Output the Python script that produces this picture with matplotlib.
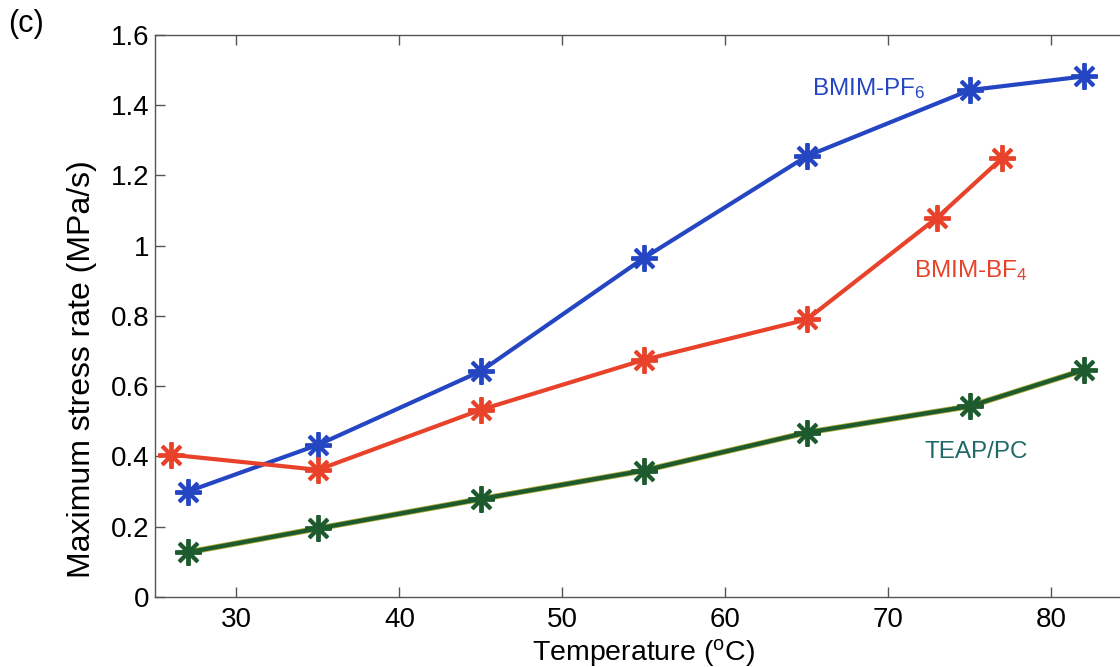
import matplotlib
matplotlib.use("Agg")
import matplotlib.pyplot as plt

plt.rcParams['font.family'] = ['Liberation Sans', 'DejaVu Sans']
plt.rcParams['mathtext.fontset'] = 'custom'
plt.rcParams['mathtext.rm'] = 'Liberation Sans'
plt.rcParams['mathtext.default'] = 'regular'

# data
temp_pf6 = [27, 35, 45, 55, 65, 75, 82]
rate_pf6 = [0.30, 0.433, 0.643, 0.965, 1.255, 1.443, 1.482]

temp_bf4 = [26, 35, 45, 55, 65, 73, 77]
rate_bf4 = [0.405, 0.362, 0.533, 0.675, 0.79, 1.08, 1.25]

temp_teap = [27, 35, 45, 55, 65, 75, 82]
rate_teap = [0.127, 0.195, 0.279, 0.36, 0.468, 0.543, 0.646]

x_ticks = [30, 40, 50, 60, 70, 80]
y_ticks = [0, 0.2, 0.4, 0.6, 0.8, 1, 1.2, 1.4, 1.6]
y_ticklabels = ['0', '0.2', '0.4', '0.6', '0.8', '1', '1.2', '1.4', '1.6']

blue = '#2546c2'
red = '#e8432a'
green = '#1d5a2e'

fig = plt.figure(figsize=(11.2, 6.67), dpi=100)
ax = fig.add_axes([0.1384, 0.105, 0.873, 0.8426])

star = (8, 2, 0)
ms = 19
mew = 2.8

ax.plot(temp_pf6, rate_pf6, color=blue, lw=3, marker=star, ms=ms, mew=mew,
        mec=blue, mfc=blue, zorder=3)
ax.plot(temp_bf4, rate_bf4, color=red, lw=3, marker=star, ms=ms, mew=mew,
        mec=red, mfc=red, zorder=3)
# green line has a faint yellow fringe in the original
ax.plot(temp_teap, rate_teap, color='#a8a830', lw=4.2, zorder=2)
ax.plot(temp_teap, rate_teap, color=green, lw=3, marker=star, ms=ms, mew=mew,
        mec=green, mfc=green, zorder=3)

ax.text(65.3, 1.43, 'BMIM-PF$_6$', color=blue, fontsize=17.5)
ax.text(71.6, 0.911, 'BMIM-BF$_4$', color=red, fontsize=17.5)
ax.text(72.2, 0.396, 'TEAP/PC', color='#1f6a66', fontsize=17.5)

ax.set_xlim(25, 85)
ax.set_ylim(0, 1.6)
ax.set_xticks(x_ticks)
ax.set_yticks(y_ticks)
ax.set_yticklabels(y_ticklabels)
ax.tick_params(direction='in', top=True, right=True, length=7, width=1,
               color='#555555', labelsize=20)
ax.tick_params(axis='y', pad=4)
ax.tick_params(axis='x', pad=7)
for s in ax.spines.values():
    s.set_color('#555555')
    s.set_linewidth(1)

ax.set_xlabel('Temperature ($^o$C)', fontsize=20.5, labelpad=3)
ax.set_ylabel('Maximum stress rate (MPa/s)', fontsize=23)
ax.yaxis.set_label_coords(-0.059, 0.405)

fig.text(0.007, 0.952, '(c)', fontsize=22)

fig.savefig('out.png', dpi=100)
